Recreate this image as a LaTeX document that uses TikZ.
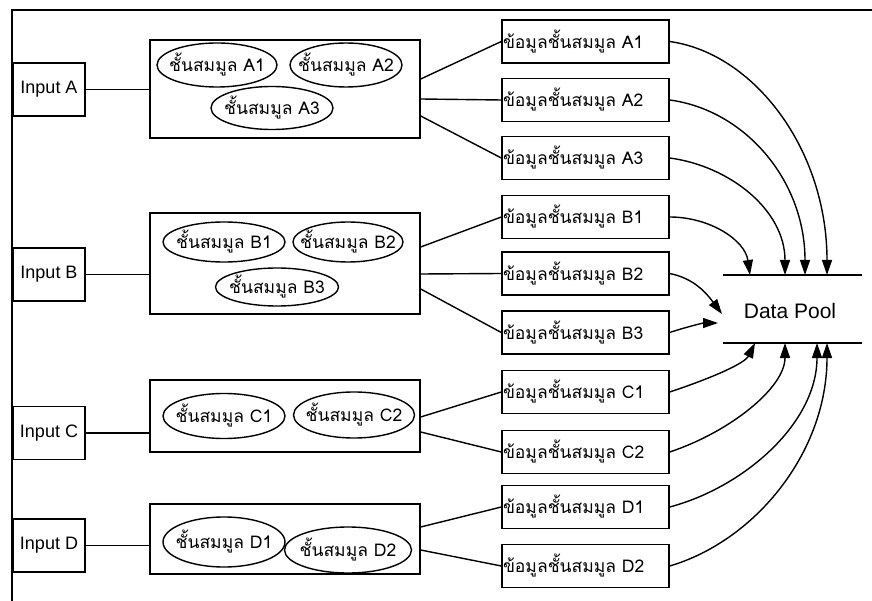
\documentclass[tikz,border=0pt]{standalone}
\usepackage{fontspec}
\setmainfont{Liberation Sans}
\newfontfamily\thaifont[Script=Thai]{Loma}
\usetikzlibrary{arrows.meta}

\begin{document}
\begin{tikzpicture}[x=1pt,y=-1pt,line width=1.4pt,>={Triangle[length=15pt,width=10pt]},
  inbox/.style={draw,minimum width=72pt,minimum height=53pt,inner sep=0pt,font=\fontsize{18}{18}\selectfont},
  grp/.style={draw,minimum width=270pt,inner sep=0pt},
  cls/.style={inner sep=0pt,font=\thaifont\fontsize{17.5}{17.5}\selectfont},
  datbox/.style={draw,minimum height=43pt,text width=165pt,inner xsep=1pt,align=left,font=\thaifont\fontsize{17.5}{17.5}\selectfont}]
  \useasboundingbox (0,0) rectangle (872,601);
  % frame
  \draw[line width=2pt] (12,601)--(12,10)--(872,10);
  % inputs
  \node[inbox] (inA) at (49,89.5) {Input A};
  \node[inbox] (inB) at (49,274.5) {Input B};
  \node[inbox] (inC) at (49,433) {Input C};
  \node[inbox] (inD) at (49,545.5) {Input D};
  % groups
  \node[grp,minimum height=98pt] (gA) at (285,89) {};
  \node[grp,minimum height=101pt] (gB) at (285,263.5) {};
  \node[grp,minimum height=72pt] (gC) at (285,416) {};
  \node[grp,minimum height=70pt] (gD) at (285,539) {};
  % classes
  \node[cls] (eA1) at (217,65) {ชั้นสมมูล A1};
  \node[cls] (eA2) at (346,65) {ชั้นสมมูล A2};
  \node[cls] (eA3) at (272,108) {ชั้นสมมูล A3};
  \node[cls] (eB1) at (224,242) {ชั้นสมมูล B1};
  \node[cls] (eB2) at (348,242) {ชั้นสมมูล B2};
  \node[cls] (eB3) at (277,287) {ชั้นสมมูล B3};
  \node[cls] (eC1) at (224,416) {ชั้นสมมูล C1};
  \node[cls] (eC2) at (354,415) {ชั้นสมมูล C2};
  \node[cls] (eD1) at (224,542) {ชั้นสมมูล D1};
  \node[cls] (eD2) at (348,550) {ชั้นสมมูล D2};
  \draw (eA1.center) ellipse [x radius=60,y radius=22];
  \draw (eA2.center) ellipse [x radius=56,y radius=22];
  \draw (eA3.center) ellipse [x radius=61,y radius=21.5];
  \draw (eB1.center) ellipse [x radius=61,y radius=20];
  \draw (eB2.center) ellipse [x radius=55,y radius=20];
  \draw (eB3.center) ellipse [x radius=61.5,y radius=19];
  \draw (eC1.center) ellipse [x radius=61,y radius=22.5];
  \draw (eC2.center) ellipse [x radius=60.5,y radius=23];
  \draw (eD1.center) ellipse [x radius=61,y radius=25];
  \draw (eD2.center) ellipse [x radius=63.5,y radius=23];
  % data boxes
  \node[datbox] (dA1) at (585.5,41.5) {ข้อมูลชั้นสมมูล A1};
  \node[datbox] (dA2) at (585.5,100) {ข้อมูลชั้นสมมูล A2};
  \node[datbox] (dA3) at (585.5,158) {ข้อมูลชั้นสมมูล A3};
  \node[datbox] (dB1) at (585.5,217) {ข้อมูลชั้นสมมูล B1};
  \node[datbox] (dB2) at (585.5,273.5) {ข้อมูลชั้นสมมูล B2};
  \node[datbox] (dB3) at (585.5,332.5) {ข้อมูลชั้นสมมูล B3};
  \node[datbox] (dC1) at (585.5,392) {ข้อมูลชั้นสมมูล C1};
  \node[datbox] (dC2) at (585.5,452) {ข้อมูลชั้นสมมูล C2};
  \node[datbox] (dD1) at (585.5,507) {ข้อมูลชั้นสมมูล D1};
  \node[datbox] (dD2) at (585.5,566) {ข้อมูลชั้นสมมูล D2};
  % data pool
  \coordinate (p1) at (723,275);
  \coordinate (p2) at (862,275);
  \coordinate (p3) at (723,343);
  \coordinate (p4) at (862,343);
  \draw (p1)--(p2);
  \draw (p3)--(p4);
  \node[font=\fontsize{21}{21}\selectfont] (pool) at (790,311) {Data Pool};
  % inputs to groups
  \draw (inA.east)--(inA.east -| gA.west);
  \draw (inB.east)--(inB.east -| gB.west);
  \draw (inC.east)--(inC.east -| gC.west);
  \draw (inD.east)--(inD.east -| gD.west);
  % groups to data
  \draw ([yshift=10pt]gA.east)--(dA1.west);
  \draw ([yshift=-10pt]gA.east)--(dA2.west);
  \draw ([yshift=-27pt]gA.east)--(dA3.west);
  \draw ([yshift=16.5pt]gB.east)--(dB1.west);
  \draw ([yshift=-10.5pt]gB.east)--(dB2.west);
  \draw ([yshift=-25.5pt]gB.east)--(dB3.west);
  \draw ([yshift=-1pt]gC.east)--(dC1.west);
  \draw ([yshift=-16pt]gC.east)--(dC2.west);
  \draw ([yshift=12pt]gD.east)--(dD1.west);
  \draw ([yshift=-11pt]gD.east)--(dD2.west);
  % data to pool
  \coordinate (tA1) at (827,275);
  \coordinate (tA2) at (805,275);
  \coordinate (tA3) at (785,275);
  \coordinate (tB1) at (750,275);
  \coordinate (tB2) at (722,314);
  \coordinate (tB3) at (718,323);
  \coordinate (tC1) at (755,343);
  \coordinate (tC2) at (785,343);
  \coordinate (tD1) at (817,343);
  \coordinate (tD2) at (827,343);
  \draw[->] (dA1.east) .. controls +(85,12) and +(0,-125) .. (tA1);
  \draw[->] (dA2.east) .. controls +(75,10) and +(0,-95) .. (tA2);
  \draw[->] (dA3.east) .. controls +(60,8) and +(0,-65) .. (tA3);
  \draw[->] (dB1.east) .. controls +(40,0) and +(-5,-35) .. (tB1);
  \draw[->] (dB2.east) .. controls +(25,5) and +(-15,-20) .. (tB2);
  \draw[->] (dB3.east) .. controls +(15,-5) and +(-15,0) .. (tB3);
  \draw[->] (dC1.east) .. controls +(45,-15) and +(-10,20) .. (tC1);
  \draw[->] (dC2.east) .. controls +(60,-20) and +(0,45) .. (tC2);
  \draw[->] (dD1.east) .. controls +(75,-20) and +(0,80) .. (tD1);
  \draw[->] (dD2.east) .. controls +(85,-25) and +(0,110) .. (tD2);
\end{tikzpicture}
\end{document}
